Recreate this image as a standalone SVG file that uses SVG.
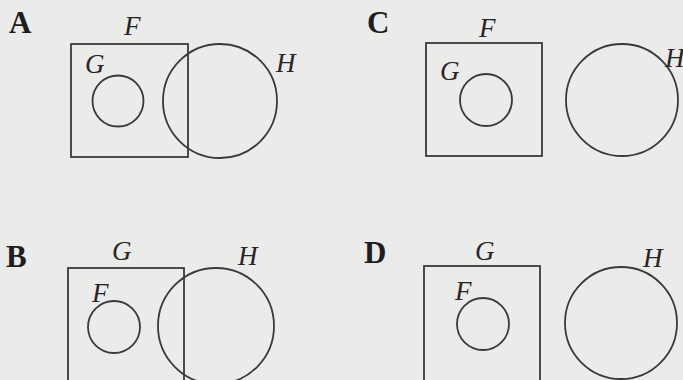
<svg xmlns="http://www.w3.org/2000/svg" width="683" height="380" viewBox="0 0 683 380">
<style>
.bg{fill:#ebebea}
.s{fill:none;stroke:#3a3a3a;stroke-width:1.8}
.lbl{font-family:"Liberation Serif",serif;font-style:italic;font-size:27px;fill:#262626}
.pn{font-family:"Liberation Serif",serif;font-weight:bold;font-size:31px;fill:#1e1e1e}
</style>
<rect class="bg" x="0" y="0" width="683" height="380"/>
<g id="panelA">
<text class="pn" x="9" y="33">A</text>
<g id="A-F"><rect class="s" x="71" y="44" width="117" height="113"/><text class="lbl" x="124" y="35">F</text></g>
<g id="A-G"><circle class="s" cx="118" cy="101" r="25.5"/><text class="lbl" x="85" y="73">G</text></g>
<g id="A-H"><circle class="s" cx="220" cy="101" r="57"/><text class="lbl" x="276" y="72">H</text></g>
</g>
<g id="panelC">
<text class="pn" x="367" y="33">C</text>
<g id="C-F"><rect class="s" x="426" y="43" width="116" height="113"/><text class="lbl" x="479" y="37">F</text></g>
<g id="C-G"><circle class="s" cx="486" cy="100" r="26"/><text class="lbl" x="440" y="80">G</text></g>
<g id="C-H"><circle class="s" cx="622" cy="100" r="56"/><text class="lbl" x="665" y="67">H</text></g>
</g>
<g id="panelB">
<text class="pn" x="6" y="267">B</text>
<g id="B-G"><rect class="s" x="68" y="268" width="116" height="130"/><text class="lbl" x="112" y="260">G</text></g>
<g id="B-F"><circle class="s" cx="114" cy="327" r="26"/><text class="lbl" x="92" y="302">F</text></g>
<g id="B-H"><circle class="s" cx="216" cy="326" r="58"/><text class="lbl" x="238" y="265">H</text></g>
</g>
<g id="panelD">
<text class="pn" x="364" y="263">D</text>
<g id="D-G"><rect class="s" x="424" y="266" width="116" height="130"/><text class="lbl" x="475" y="260">G</text></g>
<g id="D-F"><circle class="s" cx="483" cy="324" r="26"/><text class="lbl" x="455" y="300">F</text></g>
<g id="D-H"><circle class="s" cx="621" cy="323" r="56"/><text class="lbl" x="643" y="267">H</text></g>
</g>
</svg>
